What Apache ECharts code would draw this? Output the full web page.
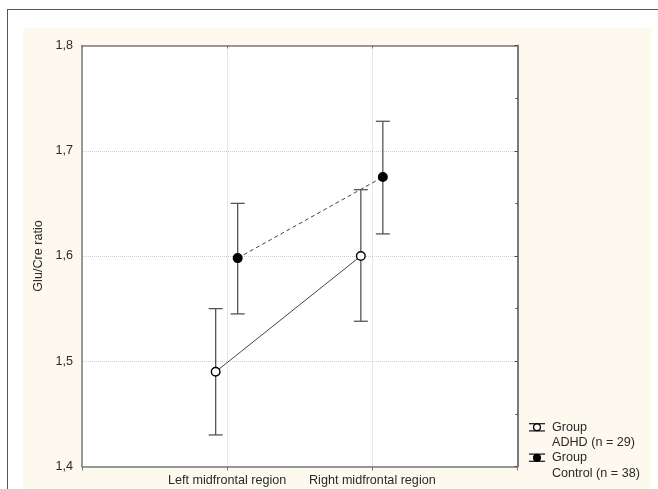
<!DOCTYPE html>
<html>
<head>
<meta charset="utf-8">
<script src="https://cdn.jsdelivr.net/npm/echarts@6/dist/echarts.min.js"></script>
<style>
  html, body { margin: 0; padding: 0; background: #fff; overflow: hidden; }
  #frame { position: absolute; left: 7px; top: 9px; width: 700px; height: 600px; border: 1.5px solid #555; box-sizing: border-box; background: #fff; }
  #cream { position: absolute; left: 23px; top: 28px; width: 628px; height: 470px; background: #fdf9ef; }
  #chart { position: absolute; left: 0; top: 0; width: 658px; height: 489px; }
</style>
</head>
<body>
<div id="frame"></div>
<div id="cream"></div>
<div id="chart"></div>
<script>
// ---- data ----
const categories = ['Left midfrontal region', 'Right midfrontal region'];
const adhdMean = [1.490, 1.600];
const adhdLow  = [1.430, 1.538];
const adhdHigh = [1.550, 1.663];
const ctrlMean = [1.598, 1.675];
const ctrlLow  = [1.545, 1.621];
const ctrlHigh = [1.650, 1.728];
const yTicks = [1.4, 1.5, 1.6, 1.7, 1.8];
const groupNames = ['Group\nADHD (n = 29)', 'Group\nControl (n = 38)'];

// ---- styles ----
const FONT = 'Liberation Sans, Arial, sans-serif';
const FS = 12.6;
const TXT = '#2a2a2a';
const FRAME = '#7a7a7a';
const GRID = '#cfcfcf';
const BAR = '#555';

function buildData(mean, low, high) {
  return mean.map((m, i) => [i + 1, m, low[i], high[i]]);
}

function makeRender(data, offset, filled, dashed) {
  return function (params, api) {
    const i = params.dataIndex;
    const d = data[i];
    const pm = api.coord([d[0], d[1]]);
    const pl = api.coord([d[0], d[2]]);
    const ph = api.coord([d[0], d[3]]);
    const x = pm[0] + offset;
    const cap = 7;
    const children = [];
    if (i < data.length - 1) {
      const n = data[i + 1];
      const pn = api.coord([n[0], n[1]]);
      children.push({
        type: 'line',
        shape: { x1: x, y1: pm[1], x2: pn[0] + offset, y2: pn[1] },
        style: { stroke: '#444', lineWidth: 1, lineDash: dashed ? [4, 3] : null },
        z2: 1
      });
    }
    children.push({
      type: 'line', shape: { x1: x, y1: ph[1], x2: x, y2: pl[1] },
      style: { stroke: BAR, lineWidth: 1.3 }, z2: 2
    });
    children.push({
      type: 'line', shape: { x1: x - cap, y1: ph[1], x2: x + cap, y2: ph[1] },
      style: { stroke: BAR, lineWidth: 1.3 }, z2: 2
    });
    children.push({
      type: 'line', shape: { x1: x - cap, y1: pl[1], x2: x + cap, y2: pl[1] },
      style: { stroke: BAR, lineWidth: 1.3 }, z2: 2
    });
    children.push({
      type: 'circle', shape: { cx: x, cy: pm[1], r: 4.3 },
      style: { fill: filled ? '#000' : '#fff', stroke: '#000', lineWidth: 1.4 }, z2: 3
    });
    return { type: 'group', children: children };
  };
}

const adhdData = buildData(adhdMean, adhdLow, adhdHigh);
const ctrlData = buildData(ctrlMean, ctrlLow, ctrlHigh);

function legendIcon(cx, cy, filled) {
  return {
    type: 'group',
    children: [
      { type: 'line', shape: { x1: cx - 8, y1: cy - 3.6, x2: cx + 8, y2: cy - 3.6 }, style: { stroke: '#222', lineWidth: 1.3 } },
      { type: 'line', shape: { x1: cx - 8, y1: cy + 3.6, x2: cx + 8, y2: cy + 3.6 }, style: { stroke: '#222', lineWidth: 1.3 } },
      { type: 'line', shape: { x1: cx, y1: cy - 3.6, x2: cx, y2: cy + 3.6 }, style: { stroke: '#222', lineWidth: 1.3 } },
      { type: 'circle', shape: { cx: cx, cy: cy, r: 3.4 }, style: { fill: filled ? '#000' : '#fff', stroke: '#000', lineWidth: 1.3 } }
    ]
  };
}

const chart = echarts.init(document.getElementById('chart'), null, { renderer: 'canvas' });
const option = {
  backgroundColor: 'transparent',
  animation: false,
  grid: { left: 82, top: 45.5, right: 140.5, bottom: 22.5, show: true, backgroundColor: '#fff', borderWidth: 0 },
  xAxis: [
    {
      type: 'value', min: 0, max: categories.length + 1, interval: 1, position: 'bottom',
      axisLine: { show: true, onZero: false, lineStyle: { color: FRAME, width: 1.5 } },
      axisTick: { show: true, length: 4, lineStyle: { color: FRAME } },
      axisLabel: {
        margin: 8, color: TXT, fontFamily: FONT, fontSize: FS,
        formatter: v => categories[v - 1] || ''
      },
      splitLine: { show: true, lineStyle: { color: GRID, type: 'dotted', width: 1 } }
    },
    {
      type: 'value', min: 0, max: categories.length + 1, interval: 1, position: 'top',
      axisLine: { show: true, onZero: false, lineStyle: { color: FRAME, width: 1.5 } },
      axisTick: { show: true, inside: true, length: 3, lineStyle: { color: FRAME } },
      axisLabel: { show: false },
      splitLine: { show: false }
    }
  ],
  yAxis: [
    {
      type: 'value', min: yTicks[0], max: yTicks[yTicks.length - 1], interval: 0.1, position: 'left',
      name: 'Glu/Cre ratio', nameLocation: 'middle', nameGap: 34,
      nameTextStyle: { color: TXT, fontFamily: FONT, fontSize: FS },
      axisLine: { show: true, onZero: false, lineStyle: { color: FRAME, width: 1.5 } },
      axisTick: { show: false },
      axisLabel: {
        margin: 9, color: TXT, fontFamily: FONT, fontSize: FS,
        formatter: v => v.toFixed(1).replace('.', ',')
      },
      splitLine: { show: true, lineStyle: { color: GRID, type: 'dotted', width: 1 } }
    },
    {
      type: 'value', min: yTicks[0], max: yTicks[yTicks.length - 1], interval: 0.1, position: 'right',
      axisLine: { show: true, onZero: false, lineStyle: { color: FRAME, width: 2 } },
      axisTick: { show: true, inside: true, length: 3, lineStyle: { color: '#444' } },
      minorTick: { show: true, splitNumber: 2, length: 2, lineStyle: { color: '#444' } },
      axisLabel: { show: false },
      splitLine: { show: false }
    }
  ],
  series: [
    {
      name: groupNames[0], type: 'custom', xAxisIndex: 0, yAxisIndex: 0,
      data: adhdData, renderItem: makeRender(adhdData, -11.5, false, false),
      encode: { x: 0, y: [1, 2, 3] }, clip: false
    },
    {
      name: groupNames[1], type: 'custom', xAxisIndex: 0, yAxisIndex: 0,
      data: ctrlData, renderItem: makeRender(ctrlData, 10.5, true, true),
      encode: { x: 0, y: [1, 2, 3] }, clip: false
    }
  ],
  graphic: [
    legendIcon(537, 427.3, false),
    legendIcon(537, 457.7, true),
    {
      type: 'text', left: 552, top: 419.5,
      style: { text: groupNames[0], fill: TXT, font: FS + 'px ' + FONT, lineHeight: 15.5 }
    },
    {
      type: 'text', left: 552, top: 450,
      style: { text: groupNames[1], fill: TXT, font: FS + 'px ' + FONT, lineHeight: 15.5 }
    }
  ]
};
chart.setOption(option);
</script>
</body>
</html>
